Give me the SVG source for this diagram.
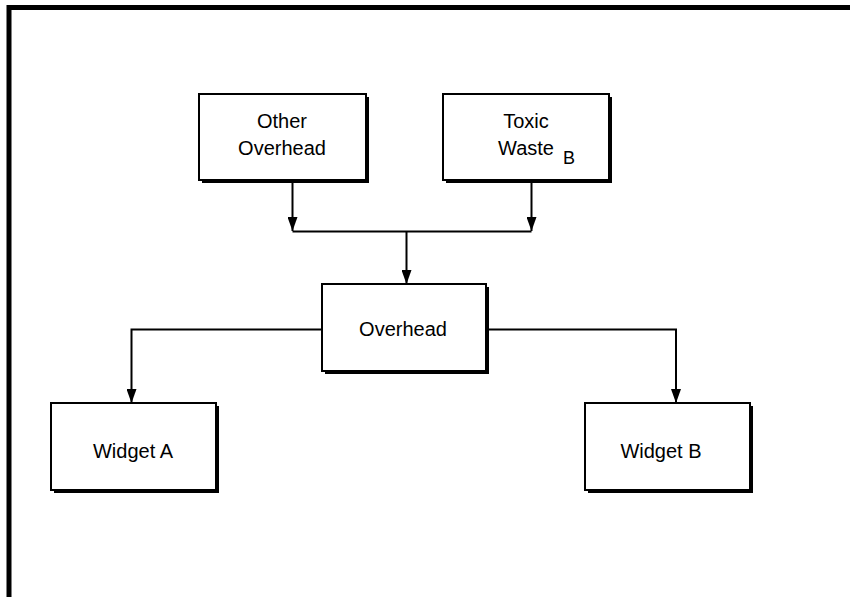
<svg xmlns="http://www.w3.org/2000/svg" width="850" height="597" viewBox="0 0 850 597">
<defs>
<marker id="arr" markerWidth="14" markerHeight="10" refX="14" refY="5" orient="auto" markerUnits="userSpaceOnUse" viewBox="0 0 14 10">
<path d="M0,0 L14,5 L0,10 Z" fill="#000"/>
</marker>
</defs>
<style>
.shadow{fill:#000;}
.box{fill:#fff;stroke:#000;stroke-width:2;}
.lbl{font-family:"Liberation Sans",Arial,sans-serif;font-size:20px;fill:#000;text-anchor:middle;}
.sub{font-family:"Liberation Sans",Arial,sans-serif;font-size:18px;fill:#000;}
.conn{fill:none;stroke:#000;stroke-width:2;}
</style>
<rect width="850" height="597" fill="#fff"/>
<path d="M9,597 V7.5 H850" fill="none" stroke="#000" stroke-width="5"/>
<g id="other-overhead">
<rect class="shadow" x="202" y="97" width="167" height="86"/>
<rect class="box" x="199" y="94" width="167" height="86"/>
<text class="lbl" x="282" y="127.5">Other</text>
<text class="lbl" x="282" y="154.5">Overhead</text>
</g>
<g id="toxic-waste">
<rect class="shadow" x="446" y="97" width="166" height="86"/>
<rect class="box" x="443" y="94" width="166" height="86"/>
<text class="lbl" x="526" y="127.5">Toxic</text>
<text class="lbl" x="526" y="154.5">Waste</text>
<text class="sub" x="563" y="164">B</text>
</g>
<g id="overhead">
<rect class="shadow" x="325" y="287" width="164" height="87"/>
<rect class="box" x="322" y="284" width="164" height="87"/>
<text class="lbl" x="403" y="336">Overhead</text>
</g>
<g id="widget-a">
<rect class="shadow" x="54" y="406" width="165" height="87"/>
<rect class="box" x="51" y="403" width="165" height="87"/>
<text class="lbl" x="133" y="458">Widget A</text>
</g>
<g id="widget-b">
<rect class="shadow" x="588" y="406" width="165" height="87"/>
<rect class="box" x="585" y="403" width="165" height="87"/>
<text class="lbl" x="661" y="458">Widget B</text>
</g>
<g id="connectors">
<path class="conn" d="M292.5,183 V231" marker-end="url(#arr)"/>
<path class="conn" d="M531.5,183 V231" marker-end="url(#arr)"/>
<path class="conn" d="M292.5,231.5 H531.5"/>
<path class="conn" d="M406.5,232 V284" marker-end="url(#arr)"/>
<path class="conn" d="M322,329.5 H131.5 V403" marker-end="url(#arr)"/>
<path class="conn" d="M486,329.5 H676 V403" marker-end="url(#arr)"/>
</g>
</svg>
